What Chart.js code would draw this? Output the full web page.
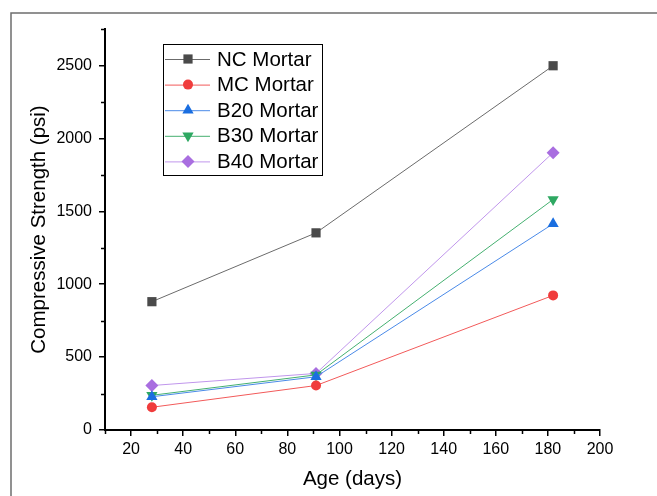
<!DOCTYPE html>
<html>
<head>
<meta charset="utf-8">
<script src="https://cdn.jsdelivr.net/npm/chart.js@4.4.1/dist/chart.umd.min.js"></script>
<style>
  html, body { margin: 0; padding: 0; background: #fff; }
  #wrap { width: 657px; height: 496px; position: relative; }
</style>
</head>
<body>
<div id="wrap"><canvas id="chart" width="657" height="496"></canvas></div>
<script>
// Age of the specimens (days)
var ages = [28, 91, 182];
// Compressive strength (psi) per mix
var ncMortar  = [880, 1352, 2498];
var mcMortar  = [156, 305, 923];
var b20Mortar = [228, 365, 1414];
var b30Mortar = [238, 378, 1581];
var b40Mortar = [305, 388, 1902];

var seriesNames = ["NC Mortar", "MC Mortar", "B20 Mortar", "B30 Mortar", "B40 Mortar"];
var xTicks = [20, 40, 60, 80, 100, 120, 140, 160, 180, 200];
var xMinorTicks = [10, 30, 50, 70, 90, 110, 130, 150, 170, 190];
var yTicks = [0, 500, 1000, 1500, 2000, 2500];
var yMinorTicks = [250, 750, 1250, 1750, 2250, 2750];

var FONT = "'Liberation Sans', Arial, sans-serif";

function toPoints(values) {
    var pts = [];
    for (var i = 0; i < ages.length; i++) {
        pts.push({ x: ages[i], y: values[i] });
    }
    return pts;
}

function makeSet(name, values, line, fill, style, radius, rotation) {
    return {
        label: name,
        data: toPoints(values),
        borderColor: line,
        borderWidth: 1,
        backgroundColor: fill,
        pointBackgroundColor: fill,
        pointBorderColor: fill,
        pointBorderWidth: 0,
        pointStyle: style,
        pointRadius: radius,
        pointRotation: rotation || 0,
        pointHoverRadius: radius,
        tension: 0,
        fill: false
    };
}

var datasets = [
    makeSet(seriesNames[0], ncMortar,  "#6b6b6b", "#4a4a4a", "rect", 6.5),
    makeSet(seriesNames[1], mcMortar,  "#f25a5a", "#f03c3c", "circle", 5),
    makeSet(seriesNames[2], b20Mortar, "#4a8ae8", "#1a6ee0", "triangle", 6.5),
    makeSet(seriesNames[3], b30Mortar, "#45b070", "#2ea862", "triangle", 6.5, 180),
    makeSet(seriesNames[4], b40Mortar, "#c096ec", "#a96ee0", "rectRot", 6.5)
];

// outer frame of the figure (left and top edges visible)
var framePlugin = {
    id: "frame",
    beforeDraw: function (chart) {
        var ctx = chart.ctx;
        ctx.save();
        ctx.strokeStyle = "#6e6e6e";
        ctx.lineWidth = 1.5;
        ctx.beginPath();
        ctx.moveTo(11, 700);
        ctx.lineTo(11, 13);
        ctx.lineTo(800, 13);
        ctx.stroke();
        ctx.restore();
    }
};

// minor ticks on both axes
var minorTickPlugin = {
    id: "minorTicks",
    afterDraw: function (chart) {
        var ctx = chart.ctx;
        var area = chart.chartArea;
        var xs = chart.scales.x, ys = chart.scales.y;
        ctx.save();
        ctx.strokeStyle = "#000";
        ctx.lineWidth = 1.5;
        ctx.beginPath();
        for (var i = 0; i < yMinorTicks.length; i++) {
            var py = Math.round(ys.getPixelForValue(yMinorTicks[i])) + 0.5;
            ctx.moveTo(area.left, py);
            ctx.lineTo(area.left - 4, py);
        }
        for (var j = 0; j < xMinorTicks.length; j++) {
            var px = Math.round(xs.getPixelForValue(xMinorTicks[j])) + 0.5;
            ctx.moveTo(px, area.bottom);
            ctx.lineTo(px, area.bottom + 4);
        }
        ctx.stroke();
        ctx.restore();
    }
};

// boxed legend with line + marker samples, like the original figure
var boxLegendPlugin = {
    id: "boxLegend",
    afterDraw: function (chart) {
        var ctx = chart.ctx;
        var sets = chart.data.datasets;
        var left = 163, top = 44, width = 159, rowH = 25.6;
        var height = 131;
        ctx.save();
        ctx.fillStyle = "#fff";
        ctx.fillRect(left, top, width, height);
        ctx.strokeStyle = "#000";
        ctx.lineWidth = 1;
        ctx.strokeRect(left + 0.5, top + 0.5, width, height);
        for (var i = 0; i < sets.length; i++) {
            var ds = sets[i];
            var cy = top + 15 + i * rowH;
            ctx.strokeStyle = ds.borderColor;
            ctx.lineWidth = 1;
            ctx.beginPath();
            ctx.moveTo(165, cy + 0.5);
            ctx.lineTo(210, cy + 0.5);
            ctx.stroke();
            ctx.fillStyle = ds.pointBackgroundColor;
            ctx.strokeStyle = ds.pointBorderColor;
            Chart.helpers.drawPoint(ctx, {
                pointStyle: ds.pointStyle,
                rotation: ds.pointRotation,
                radius: ds.pointRadius,
                borderWidth: 0
            }, 188, cy);
            ctx.fillStyle = "#000";
            ctx.font = "20.5px " + FONT;
            ctx.textBaseline = "middle";
            ctx.textAlign = "left";
            ctx.fillText(ds.label, 217, cy + 1);
        }
        ctx.restore();
    }
};

var chart = new Chart(document.getElementById("chart"), {
    type: "line",
    data: { datasets: datasets },
    options: {
        responsive: false,
        animation: false,
        events: [],
        layout: { padding: { left: 0, top: 29, right: 57, bottom: 0 } },
        plugins: {
            legend: { display: false },
            tooltip: { enabled: false }
        },
        scales: {
            x: {
                type: "linear",
                min: 10,
                max: 200,
                afterBuildTicks: function (scale) {
                    scale.ticks = xTicks.map(function (v) { return { value: v }; });
                },
                afterFit: function (scale) { scale.height = 66; },
                border: { display: true, color: "#000", width: 2 },
                grid: { drawOnChartArea: false, drawTicks: true, tickLength: 6, color: "#000", lineWidth: 1.5 },
                ticks: {
                    color: "#000", padding: 4, maxRotation: 0,
                    font: { family: FONT, size: 16 },
                    callback: function (v) { return String(v); }
                },
                title: {
                    display: true,
                    text: "Age (days)",
                    color: "#000",
                    font: { family: FONT, size: 20.5 },
                    padding: { top: 0, bottom: 4 }
                }
            },
            y: {
                type: "linear",
                min: 0,
                max: 2750,
                afterBuildTicks: function (scale) {
                    scale.ticks = yTicks.map(function (v) { return { value: v }; });
                },
                afterFit: function (scale) { scale.width = 105; },
                border: { display: true, color: "#000", width: 2 },
                grid: { drawOnChartArea: false, drawTicks: true, tickLength: 6, color: "#000", lineWidth: 1.5 },
                ticks: {
                    color: "#000", padding: 7,
                    font: { family: FONT, size: 16 },
                    callback: function (v) { return String(v); }
                },
                title: {
                    display: true,
                    text: "Compressive Strength (psi)",
                    color: "#000",
                    font: { family: FONT, size: 20.5 },
                    padding: { top: 27, bottom: 0 }
                }
            }
        }
    },
    plugins: [framePlugin, minorTickPlugin, boxLegendPlugin]
});
</script>
</body>
</html>
